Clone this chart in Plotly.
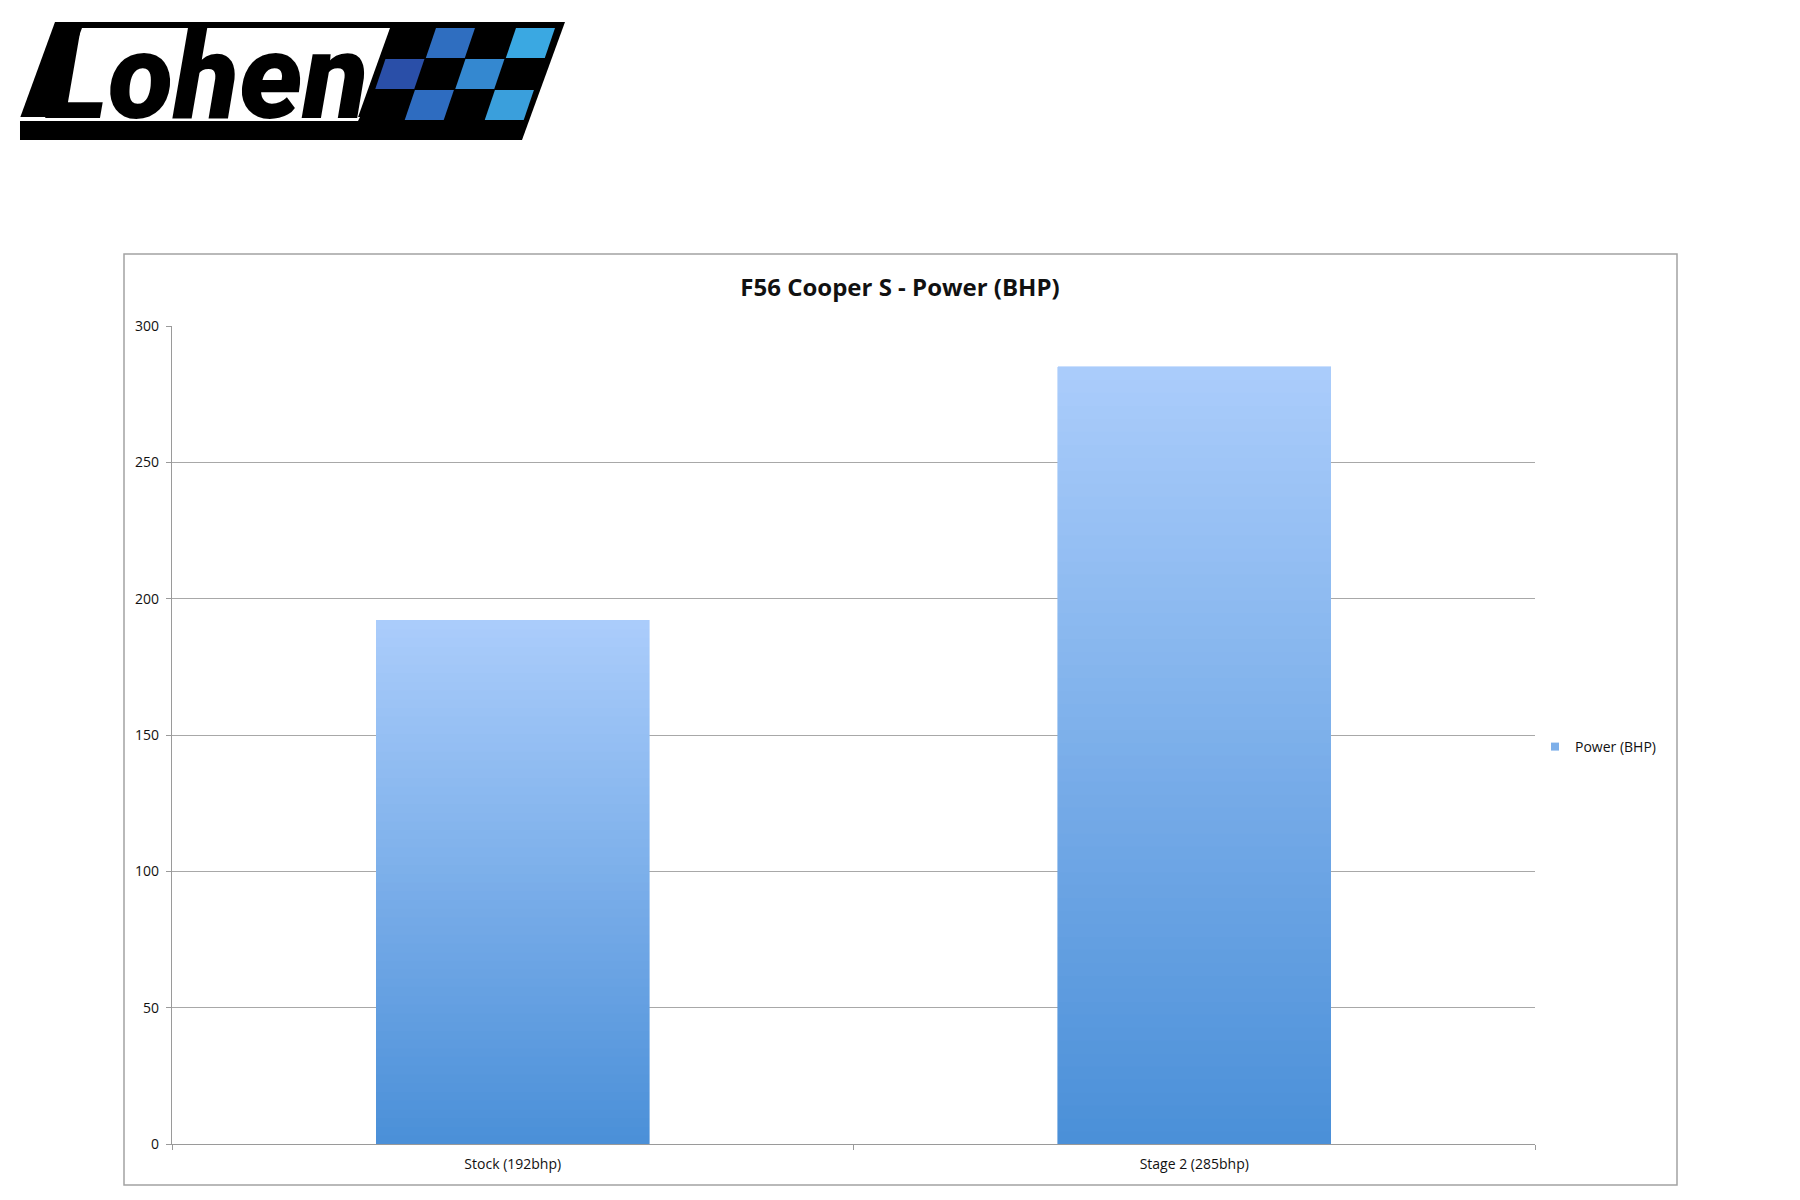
import plotly.graph_objects as go

# ---- data ----
categories = ["Stock (192bhp)", "Stage 2 (285bhp)"]
power_bhp = [192, 285]
series_name = "Power (BHP)"
title_text = "F56 Cooper S - Power (BHP)"
y_ticks = [0, 50, 100, 150, 200, 250, 300]

# ---- layout geometry (pixels) ----
OFF = 8                      # page body margin in the browser
W, H = 1800 - OFF, 1200 - OFF
PL, PR, PT, PB = 172, 1535, 326, 1144   # plot area in screen pixels
L, T = PL - OFF, PT - OFF
R, B = W - (PR - OFF), H - (PB - OFF)
PW, PH = W - L - R, H - T - B


def px(x):
    return (x - OFF - L) / PW


def py(y):
    return (H - B - (y - OFF)) / PH


def path(pts):
    return "M " + " L ".join(f"{px(x):.5f},{py(y):.5f}" for x, y in pts) + " Z"


def lerp(c1, c2, t):
    a = [int(c1[i:i + 2], 16) for i in (1, 3, 5)]
    b = [int(c2[i:i + 2], 16) for i in (1, 3, 5)]
    return "#" + "".join(f"{round(a[i] + (b[i] - a[i]) * t):02x}" for i in range(3))


BOTTOM_C = "#4a8fd8"
TOP_C = "#abcdfb"
N = 60

fig = go.Figure()
for k in range(N):
    c = lerp(BOTTOM_C, TOP_C, (k + 0.5) / N)
    fig.add_trace(go.Bar(
        x=categories,
        y=[v / N for v in power_bhp],
        customdata=power_bhp,
        hovertemplate="%{x}: %{customdata}<extra></extra>",
        marker=dict(color=c, line=dict(color=c, width=0.6)),
        width=0.4,
        showlegend=False,
        legendgroup="p",
    ))

# legend entry
fig.add_trace(go.Scatter(
    x=[None], y=[None], name=series_name, mode="markers",
    marker=dict(color="#7dafe9", symbol="square", size=8),
    legendgroup="p", showlegend=True, hoverinfo="skip",
))

shapes = []
# chart border
shapes.append(dict(type="rect", xref="paper", yref="paper",
                   x0=px(124), x1=px(1677), y0=py(1185), y1=py(254),
                   line=dict(color="#a3a3a3", width=1.5), fillcolor="rgba(0,0,0,0)", layer="below"))

# logo
shapes.append(dict(type="path", xref="paper", yref="paper",
                   path=path([(55, 22), (565, 22), (522, 140), (20, 140), (20, 118)]),
                   fillcolor="#000000", line=dict(width=0)))
shapes.append(dict(type="path", xref="paper", yref="paper",
                   path=path([(82, 28), (390, 28), (357, 120), (48, 120)]),
                   fillcolor="#ffffff", line=dict(width=0)))
shapes.append(dict(type="path", xref="paper", yref="paper",
                   path=path([(20, 117), (360, 117), (358, 121), (20, 121)]),
                   fillcolor="#ffffff", line=dict(width=0)))

rows = [(28, 58), (59, 89), (90, 120)]
checks = [(0, 1, "#2f6ec0"), (0, 3, "#3aa8e2"),
          (1, 0, "#2a4fa8"), (1, 2, "#3488d0"),
          (2, 1, "#2e6cc0"), (2, 3, "#3a9fdc")]
slant = 0.34
for r, c, col in checks:
    y0, y1 = rows[r]
    xl = 396 + 40 * c
    pts = [(xl - slant * (y0 - 28), y0), (xl + 39 - slant * (y0 - 28), y0),
           (xl + 39 - slant * (y1 - 28), y1), (xl - slant * (y1 - 28), y1)]
    shapes.append(dict(type="path", xref="paper", yref="paper", path=path(pts),
                       fillcolor=col, line=dict(width=0)))

annotations = [dict(
    text="Lohen", xref="paper", yref="paper", x=px(206), y=py(77),
    xanchor="center", yanchor="middle", showarrow=False,
    font=dict(family="Roboto", size=120, color="#000000",
              weight=900, style="italic"),
)]

fig.update_layout(
    width=W, height=H,
    margin=dict(l=L, r=R, t=T, b=B, autoexpand=False),
    paper_bgcolor="#ffffff", plot_bgcolor="#ffffff",
    barmode="stack", bargap=0.6,
    font=dict(family="Open Sans", size=14, color="#111111"),
    title=dict(text=title_text, x=(900 - OFF) / W, xref="container", xanchor="center",
               y=1 - (288 - OFF) / H, yref="container", yanchor="middle",
               font=dict(family="Open Sans", size=24, color="#111111", weight="bold")),
    xaxis=dict(
        type="category", showgrid=False, showline=True, linecolor="#9a9a9a", linewidth=1.2,
        ticks="outside", tickson="boundaries", ticklen=5, tickcolor="#9a9a9a",
        tickfont=dict(size=14, color="#111111"), zeroline=False, ticklabelstandoff=7,
    ),
    yaxis=dict(
        range=[0, 300], tickvals=y_ticks, showgrid=True, gridcolor="#a8a8a8", gridwidth=1.2,
        showline=True, linecolor="#9a9a9a", linewidth=1.2, zeroline=False,
        ticks="outside", ticklen=5, tickcolor="#9a9a9a",
        tickfont=dict(size=14, color="#111111"), ticklabelstandoff=4,
    ),
    legend=dict(x=px(1535), y=py(747), xanchor="left", yanchor="middle",
                font=dict(size=14, color="#111111"), bgcolor="rgba(0,0,0,0)",
                itemwidth=30),
    shapes=shapes,
    annotations=annotations,
)

fig.write_html("out.html")
